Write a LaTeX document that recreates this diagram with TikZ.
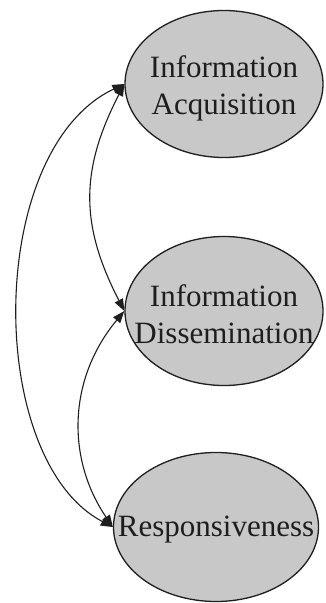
\documentclass[tikz,border=0pt]{standalone}
\usepackage{fontspec}
\setmainfont{Liberation Serif}
\usetikzlibrary{shapes.geometric,arrows.meta}
\definecolor{ovalfill}{RGB}{200,200,200}
\definecolor{ink}{RGB}{30,30,30}
\tikzset{
  oval/.style={ellipse, draw=ink, line width=1.3pt, fill=ovalfill, inner sep=0pt},
  lbl/.style={align=center, text=ink, inner sep=0pt,
              font=\fontsize{31}{37}\selectfont},
  link/.style={draw=ink, line width=1.1pt,
               {Triangle[length=12pt,width=9pt]}-{Triangle[length=12pt,width=9pt]}}
}
\begin{document}
\begin{tikzpicture}[x=1pt,y=-1pt]
  \useasboundingbox (0,0) rectangle (325,603);
  % the three constructs
  \node[oval, minimum width=198pt, minimum height=147pt] (e1) at (224,84) {};
  \node[oval, minimum width=198pt, minimum height=149pt] (e2) at (224,311) {};
  \node[oval, minimum width=205pt, minimum height=149pt] (e3) at (216,527) {};
  \node[lbl] (t1) at (224,88) {Information\\Acquisition};
  \node[lbl] (t2) at (224,314) {Information\\Dissemination};
  \node[lbl] (t3) at (216,530) {Responsiveness};
  % correlations between the constructs
  \draw[link] (e1.west) .. controls (-15,150) and (-15,460) .. (e3.west);
  \draw[link] (e1.west) .. controls (80,170) and (80,225) .. (e2.west);
  \draw[link] (e2.west) .. controls (67,380) and (67,460) .. (e3.west);
\end{tikzpicture}
\end{document}
